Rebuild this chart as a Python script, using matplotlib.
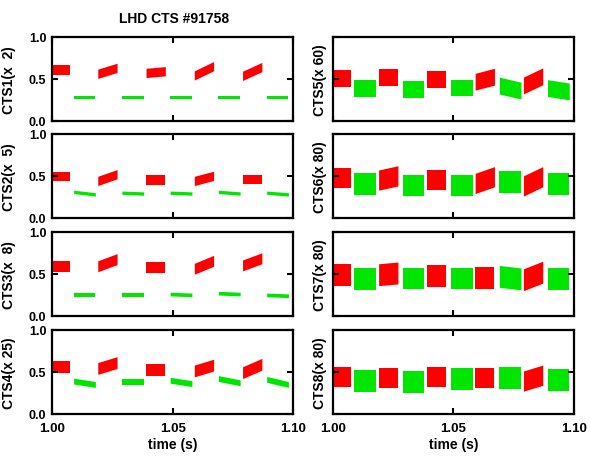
import numpy as np
import matplotlib
matplotlib.use("Agg")
import matplotlib.pyplot as plt

plt.rcParams['font.family'] = ['Liberation Sans', 'DejaVu Sans']
plt.rcParams['font.weight'] = 'bold'

# time windows of the two beam phases (s)
red_t0 = [1.000, 1.019, 1.039, 1.059, 1.079, 1.0995]
red_t1 = [1.0075, 1.027, 1.047, 1.067, 1.087, 1.100]
green_t0 = [1.009, 1.029, 1.049, 1.069, 1.089]
green_t1 = [1.018, 1.038, 1.058, 1.078, 1.098]

labels = ["CTS1(x  2)", "CTS2(x  5)", "CTS3(x  8)", "CTS4(x 25)",
          "CTS5(x 60)", "CTS6(x 80)", "CTS7(x 80)", "CTS8(x 80)"]

# mean level at start / end of each segment, and noise half-width
red_a = [
    [0.605, 0.56, 0.57, 0.54, 0.535, 0.50],
    [0.49, 0.44, 0.45, 0.44, 0.46, 0.45],
    [0.585, 0.59, 0.575, 0.56, 0.60, 0.58],
    [0.56, 0.54, 0.52, 0.51, 0.49, 0.50],
    [0.505, 0.515, 0.495, 0.465, 0.42, 0.45],
    [0.475, 0.45, 0.455, 0.41, 0.38, 0.45],
    [0.49, 0.49, 0.475, 0.455, 0.43, 0.45],
    [0.44, 0.43, 0.44, 0.43, 0.39, 0.42],
]
red_b = [
    [0.605, 0.63, 0.59, 0.65, 0.64, 0.50],
    [0.49, 0.52, 0.45, 0.50, 0.46, 0.45],
    [0.585, 0.675, 0.575, 0.655, 0.685, 0.58],
    [0.56, 0.61, 0.52, 0.58, 0.59, 0.50],
    [0.505, 0.515, 0.495, 0.525, 0.53, 0.45],
    [0.475, 0.50, 0.455, 0.49, 0.49, 0.45],
    [0.49, 0.51, 0.475, 0.455, 0.52, 0.45],
    [0.44, 0.43, 0.44, 0.43, 0.46, 0.42],
]
red_hw = [0.055, 0.055, 0.065, 0.07, 0.10, 0.12, 0.13, 0.12]

green_a = [
    [0.28, 0.28, 0.28, 0.28, 0.28],
    [0.31, 0.30, 0.30, 0.31, 0.30],
    [0.25, 0.25, 0.26, 0.27, 0.25],
    [0.39, 0.38, 0.40, 0.42, 0.41],
    [0.38, 0.37, 0.39, 0.42, 0.39],
    [0.405, 0.385, 0.385, 0.425, 0.405],
    [0.435, 0.445, 0.445, 0.47, 0.435],
    [0.39, 0.38, 0.41, 0.43, 0.40],
]
green_b = [
    [0.28, 0.28, 0.28, 0.28, 0.28],
    [0.28, 0.29, 0.29, 0.29, 0.28],
    [0.25, 0.25, 0.25, 0.26, 0.24],
    [0.35, 0.38, 0.36, 0.37, 0.35],
    [0.38, 0.37, 0.39, 0.36, 0.35],
    [0.405, 0.385, 0.385, 0.425, 0.405],
    [0.435, 0.445, 0.445, 0.44, 0.435],
    [0.39, 0.38, 0.41, 0.43, 0.40],
]
green_hw = [0.018, 0.02, 0.022, 0.035, 0.10, 0.13, 0.13, 0.13]

fig = plt.figure(figsize=(5.9, 4.6), dpi=100)

lefts = [0.088, 0.564]
bottoms = [0.735, 0.524, 0.311, 0.098]
w, h = 0.409, 0.183

for i in range(8):
    col, row = i // 4, i % 4
    ax = fig.add_axes([lefts[col], bottoms[row], w, h])

    for t0, t1, a, b in zip(red_t0, red_t1, red_a[i], red_b[i]):
        t = np.array([t0, t1])
        m = np.array([a, b])
        ax.fill_between(t, m - red_hw[i], m + red_hw[i], color='#ff0000', lw=0)
    for t0, t1, a, b in zip(green_t0, green_t1, green_a[i], green_b[i]):
        t = np.array([t0, t1])
        m = np.array([a, b])
        ax.fill_between(t, m - green_hw[i], m + green_hw[i], color='#00e600', lw=0)

    ax.set_xlim(1.0, 1.1)
    ax.set_ylim(0.0, 1.0)
    ax.set_xticks([1.00, 1.05, 1.10])
    ax.set_yticks([0.0, 0.5, 1.0])
    ax.tick_params(direction='in', length=4, width=1.5, top=True, right=True,
                   labelsize=9)
    ax.tick_params(axis='x', pad=6, labelsize=9.5)
    ax.tick_params(axis='y', pad=4)
    for s in ax.spines.values():
        s.set_linewidth(1.6)

    if col == 1:
        ax.set_yticklabels([])
    if row < 3:
        ax.set_xticklabels([])
    else:
        ax.set_xticklabels(['1.00', '1.05', '1.10'])
        ax.set_xlabel('time (s)', fontsize=10, fontweight='bold', labelpad=2)

    ax.set_ylabel(labels[i], fontsize=10, fontweight='bold')
    if col == 0:
        ax.yaxis.set_label_coords(-0.15, 0.5)
    else:
        ax.yaxis.set_label_coords(-0.025, 0.5)

fig.text(0.295, 0.958, 'LHD CTS #91758', ha='center', va='center',
         fontsize=10, fontweight='bold')

plt.savefig('out.png', dpi=100)
